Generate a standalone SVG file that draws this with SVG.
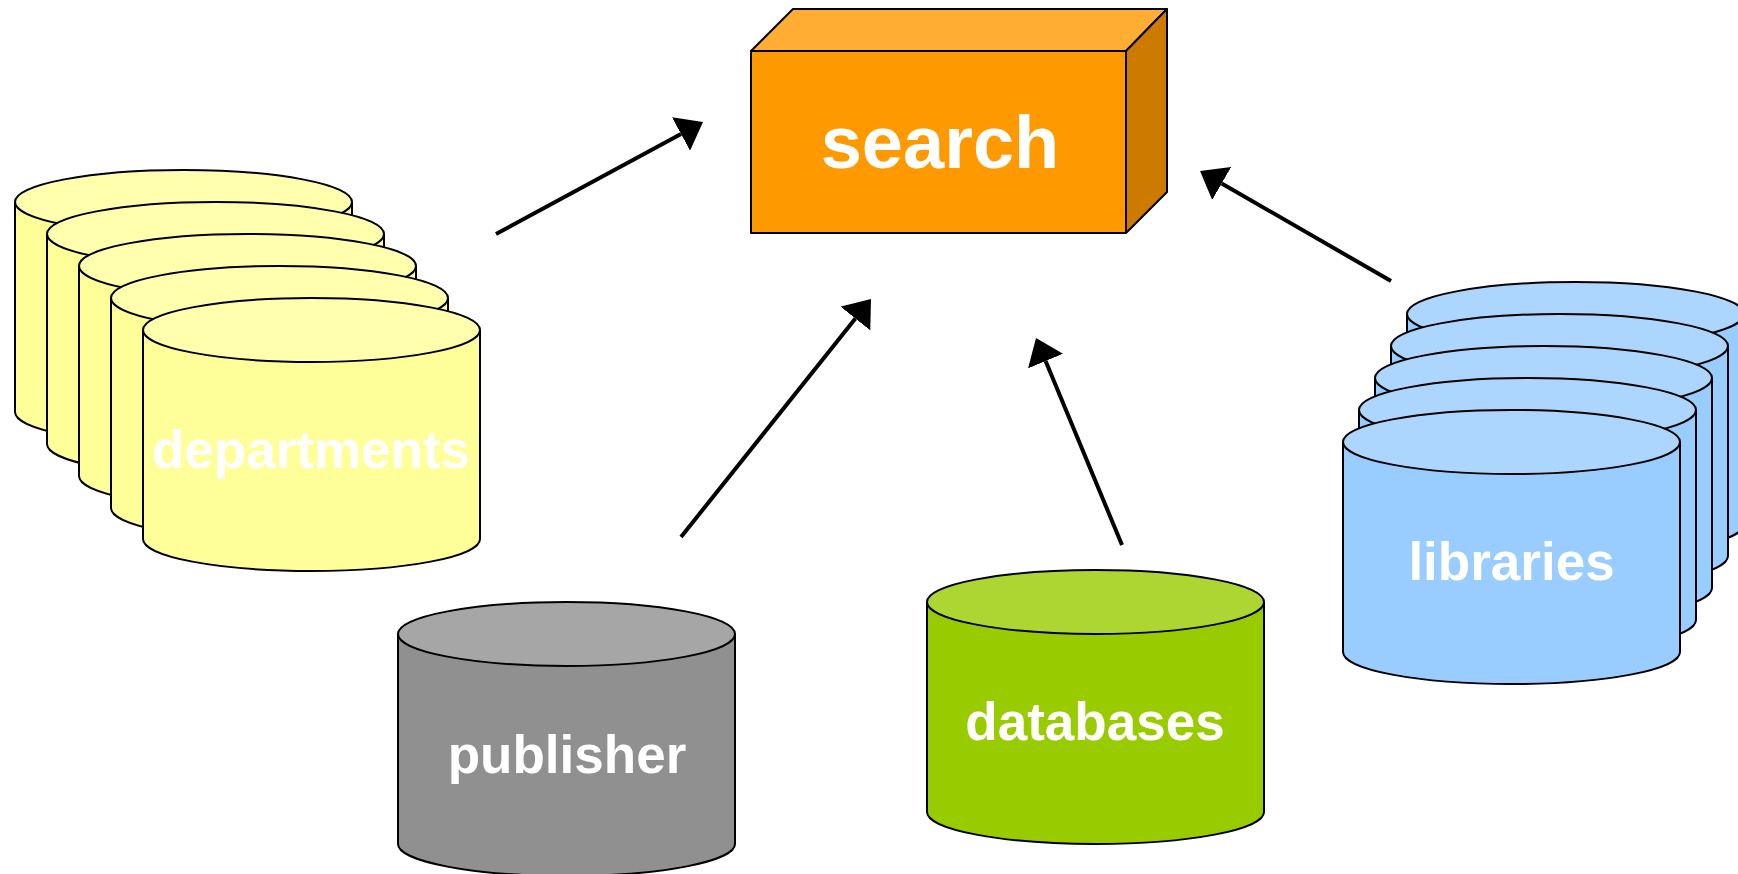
<svg xmlns="http://www.w3.org/2000/svg" width="1738" height="874" viewBox="0 0 1738 874">
<style>
.o{stroke:#000;stroke-width:2;stroke-linejoin:round}
.lbl{font-family:"Liberation Sans",Arial,Helvetica,sans-serif;font-weight:bold;fill:#fff;text-anchor:middle}
.c{fill:none;stroke:#000;stroke-width:4}
.y{fill:#FFFF99}.yt{fill:#FFFFAD}
.b{fill:#99CCFF}.bt{fill:#ADD6FF}
.g{fill:#909090}.gt{fill:#A6A6A6}
.v{fill:#99CC00}.vt{fill:#ADD633}
</style>
<defs>
<marker id="ah" markerUnits="userSpaceOnUse" viewBox="0 -19 25 38" refX="0" refY="0" markerWidth="25" markerHeight="38" orient="auto">
<path d="M0,-19 L25,0 L0,19 z" fill="#000"/>
</marker>
</defs>
<rect width="1738" height="874" fill="#fff"/>

<g id="departments">
<path class="o y" d="M15,202 v210 a168.5,32 0 0 0 337,0 v-210 z"/><ellipse class="o yt" cx="183.5" cy="202" rx="168.5" ry="32"/>
<path class="o y" d="M47,234 v210 a168.5,32 0 0 0 337,0 v-210 z"/><ellipse class="o yt" cx="215.5" cy="234" rx="168.5" ry="32"/>
<path class="o y" d="M79,266 v210 a168.5,32 0 0 0 337,0 v-210 z"/><ellipse class="o yt" cx="247.5" cy="266" rx="168.5" ry="32"/>
<path class="o y" d="M111,298 v210 a168.5,32 0 0 0 337,0 v-210 z"/><ellipse class="o yt" cx="279.5" cy="298" rx="168.5" ry="32"/>
<path class="o y" d="M143,330 v209 a168.5,32 0 0 0 337,0 v-209 z"/><ellipse class="o yt" cx="311.5" cy="330" rx="168.5" ry="32"/>
<text class="lbl" x="311" y="468" font-size="53">departments</text>
</g>

<g id="libraries">
<path class="o b" d="M1407,314 v210 a168.5,32 0 0 0 337,0 v-210 z"/><ellipse class="o bt" cx="1575.5" cy="314" rx="168.5" ry="32"/>
<path class="o b" d="M1391,346 v210 a168.5,32 0 0 0 337,0 v-210 z"/><ellipse class="o bt" cx="1559.5" cy="346" rx="168.5" ry="32"/>
<path class="o b" d="M1375,378 v210 a168.5,32 0 0 0 337,0 v-210 z"/><ellipse class="o bt" cx="1543.5" cy="378" rx="168.5" ry="32"/>
<path class="o b" d="M1359,410 v210 a168.5,32 0 0 0 337,0 v-210 z"/><ellipse class="o bt" cx="1527.5" cy="410" rx="168.5" ry="32"/>
<path class="o b" d="M1343,442 v210 a168.5,32 0 0 0 337,0 v-210 z"/><ellipse class="o bt" cx="1511.5" cy="442" rx="168.5" ry="32"/>
<text class="lbl" x="1511.5" y="580" font-size="53">libraries</text>
</g>

<g id="publisher">
<path class="o g" d="M398,634 v210 a168.5,32 0 0 0 337,0 v-210 z"/><ellipse class="o gt" cx="566.5" cy="634" rx="168.5" ry="32"/>
<text class="lbl" x="567" y="773" font-size="53">publisher</text>
</g>

<g id="databases">
<path class="o v" d="M927,602 v210 a168.5,32 0 0 0 337,0 v-210 z"/><ellipse class="o vt" cx="1095.5" cy="602" rx="168.5" ry="32"/>
<text class="lbl" x="1095" y="740" font-size="53">databases</text>
</g>

<g id="search">
<polygon class="o" fill="#FFAD33" points="751,51 793,9 1167,9 1126,51"/>
<polygon class="o" fill="#CC7A00" points="1126,51 1167,9 1167,192 1126,233"/>
<rect class="o" fill="#FF9900" x="751" y="51" width="375" height="182"/>
<text class="lbl" x="940" y="168" font-size="74">search</text>
</g>

<g id="connectors">
<line class="c" x1="496" y1="234" x2="681" y2="134" marker-end="url(#ah)"/>
<line class="c" x1="681" y1="537" x2="855.4" y2="318.5" marker-end="url(#ah)"/>
<line class="c" x1="1122" y1="545" x2="1045.6" y2="361.1" marker-end="url(#ah)"/>
<line class="c" x1="1391" y1="281" x2="1221.7" y2="183.5" marker-end="url(#ah)"/>
</g>
</svg>
